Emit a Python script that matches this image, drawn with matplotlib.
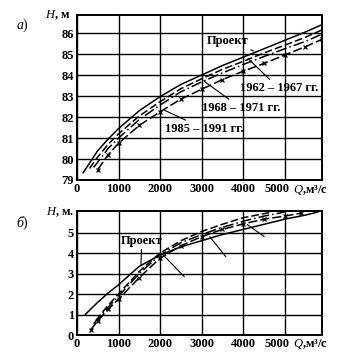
import numpy as np
import matplotlib
matplotlib.use('Agg')
import matplotlib.pyplot as plt
from matplotlib.transforms import ScaledTranslation

plt.rcParams['font.family'] = ['Liberation Serif', 'DejaVu Serif']
plt.rcParams['mathtext.fontset'] = 'custom'
plt.rcParams['mathtext.rm'] = 'Liberation Serif'
plt.rcParams['mathtext.it'] = 'Liberation Serif:italic'

# panel a) - levels H, m vs discharge Q
q_proj_a = [150, 300, 500, 750, 1000, 1500, 2000, 2500, 3000, 3500, 4000, 4500, 5000, 5500, 5900]
h_proj_a = [79.35, 79.8, 80.4, 80.95, 81.45, 82.3, 82.97, 83.55, 84.0, 84.45, 84.85, 85.25, 85.65, 86.05, 86.4]
q_6267_a = [300, 500, 750, 1000, 1500, 2000, 2500, 3000, 3500, 4000, 4500, 5000, 5500, 5900]
h_6267_a = [79.55, 80.1, 80.7, 81.2, 82.05, 82.73, 83.35, 83.82, 84.27, 84.65, 85.05, 85.42, 85.8, 86.15]
q_6871_a = [400, 500, 750, 1000, 1500, 2000, 2500, 3000, 3500, 4000, 4500, 5000, 5500, 5900]
h_6871_a = [79.6, 79.85, 80.5, 81.0, 81.88, 82.57, 83.2, 83.67, 84.1, 84.5, 84.88, 85.25, 85.6, 85.95]
q_8591_a = [500, 750, 1000, 1500, 2000, 2500, 3000, 3500, 4000, 4500, 5000, 5500, 5900]
h_8591_a = [79.5, 80.2, 80.75, 81.6, 82.25, 82.85, 83.32, 83.78, 84.18, 84.55, 84.95, 85.35, 85.7]

# panel b) - depth H, m vs discharge Q
q_proj_b = [200, 500, 750, 1000, 1500, 2000, 2500, 3000, 3500, 4000, 4500, 5000, 5500, 5800]
h_proj_b = [1.0, 1.6, 2.05, 2.45, 3.35, 3.9, 4.3, 4.6, 4.9, 5.15, 5.4, 5.65, 5.85, 6.0]
q_6267_b = [450, 750, 1000, 1500, 2000, 2500, 3000, 3500, 4000, 4500, 4700]
h_6267_b = [0.7, 1.45, 2.0, 3.1, 4.0, 4.6, 5.05, 5.4, 5.72, 5.92, 6.0]
q_6871_b = [400, 750, 1000, 1500, 2000, 2500, 3000, 3500, 4000, 4500, 5000]
h_6871_b = [0.55, 1.35, 1.9, 3.0, 3.9, 4.5, 4.9, 5.25, 5.55, 5.8, 6.0]
q_8591_b = [330, 500, 750, 1000, 1500, 2000, 2500, 3000, 3500, 4000, 4500, 5000, 5400]
h_8591_b = [0.25, 0.7, 1.25, 1.75, 2.8, 3.75, 4.35, 4.8, 5.15, 5.42, 5.65, 5.8, 5.95]

xticks = [0, 1000, 2000, 3000, 4000, 5000]
xlabels = ['0', '1000', '2000', '3000', '4000', '5000']
yticks_a = [79, 80, 81, 82, 83, 84, 85, 86]
yticks_b = [0, 1, 2, 3, 4, 5]

fs = 9

fig = plt.figure(figsize=(3.56, 3.62), dpi=100)
ax1 = fig.add_axes([77/356, 1-180/362, 245/356, 165/362])
ax2 = fig.add_axes([77/356, 1-335/362, 245/356, 124/362])

def style(ax, yticks, ylim):
    ax.set_xlim(0, 5900)
    ax.set_ylim(*ylim)
    ax.set_xticks(xticks)
    ax.set_xticklabels(xlabels)
    ax.set_yticks(yticks)
    ax.grid(True, color='black', lw=1.0)
    ax.tick_params(length=0, labelsize=fs, pad=2)
    for lab in ax.get_xticklabels() + ax.get_yticklabels():
        lab.set_fontweight('bold')
    # "5000" sits a little left of its gridline, Q label follows it
    last = ax.get_xticklabels()[-1]
    last.set_horizontalalignment('right')
    last.set_transform(last.get_transform() + ScaledTranslation(0.05, 0, fig.dpi_scale_trans))
    for s in ax.spines.values():
        s.set_linewidth(1.4)
    ax.text((293 - 77) / 245, -0.02, r'$\mathit{Q}$,м³/с', transform=ax.transAxes,
            ha='left', va='top', fontsize=fs, fontweight='bold')

style(ax1, yticks_a, (79, 86.86))
style(ax2, yticks_b, (0, 6.05))

lw = 1.1
ax1.plot(q_proj_a, h_proj_a, color='black', lw=lw)
ax1.plot(q_6267_a, h_6267_a, color='black', lw=lw, ls=(0, (5, 2)))
ax1.plot(q_6871_a, h_6871_a, color='black', lw=lw, ls=(0, (7, 2, 1, 2)))
ax1.plot(q_8591_a, h_8591_a, color='black', lw=lw, ls=(0, (6, 2)), marker='x', ms=3, mew=0.9)

ax2.plot(q_proj_b, h_proj_b, color='black', lw=lw)
ax2.plot(q_6267_b, h_6267_b, color='black', lw=lw, ls=(0, (5, 2)))
ax2.plot(q_6871_b, h_6871_b, color='black', lw=lw, ls=(0, (7, 2, 1, 2)))
ax2.plot(q_8591_b, h_8591_b, color='black', lw=lw, ls=(0, (6, 2)), marker='x', ms=3, mew=0.9)

arrow = dict(arrowstyle='-', color='black', lw=0.8, shrinkA=0, shrinkB=0)
ax1.annotate('Проект', xy=(4250, 85.15), xytext=(3640, 85.62), ha='center', va='center',
             fontsize=fs, fontweight='bold', arrowprops=arrow)
ax1.annotate('1962 – 1967 гг.', xy=(4120, 84.78), xytext=(4860, 83.38), ha='center', va='center',
             fontsize=fs, fontweight='bold', arrowprops=arrow)
ax1.annotate('1968 – 1971 гг.', xy=(3050, 83.72), xytext=(3950, 82.43), ha='center', va='center',
             fontsize=fs, fontweight='bold', arrowprops=arrow)
ax1.annotate('1985 – 1991 гг.', xy=(2100, 82.33), xytext=(3070, 81.43), ha='center', va='center',
             fontsize=fs, fontweight='bold', arrowprops=arrow)

ax2.annotate('Проект', xy=(1540, 3.42), xytext=(1560, 4.6), ha='center', va='center',
             fontsize=fs, fontweight='bold', arrowprops=arrow)
ax2.annotate('', xy=(2070, 3.92), xytext=(2585, 2.84), arrowprops=arrow)
ax2.annotate('', xy=(3195, 4.8), xytext=(3585, 3.82), arrowprops=arrow)
ax2.annotate('', xy=(4100, 5.39), xytext=(4510, 4.8), arrowprops=arrow)

fig.text(58/356, 1-15/362, r'$\mathit{H}$, м', ha='center', va='center', fontsize=fs, fontweight='bold')
fig.text(22/356, 1-25/362, r'$\mathit{а})$', ha='center', va='center', fontsize=10)
fig.text(60/356, 1-212/362, r'$\mathit{H}$, м.', ha='center', va='center', fontsize=fs, fontweight='bold')
fig.text(22/356, 1-223/362, r'$\mathit{б})$', ha='center', va='center', fontsize=10)

fig.savefig('out.png', dpi=100)
